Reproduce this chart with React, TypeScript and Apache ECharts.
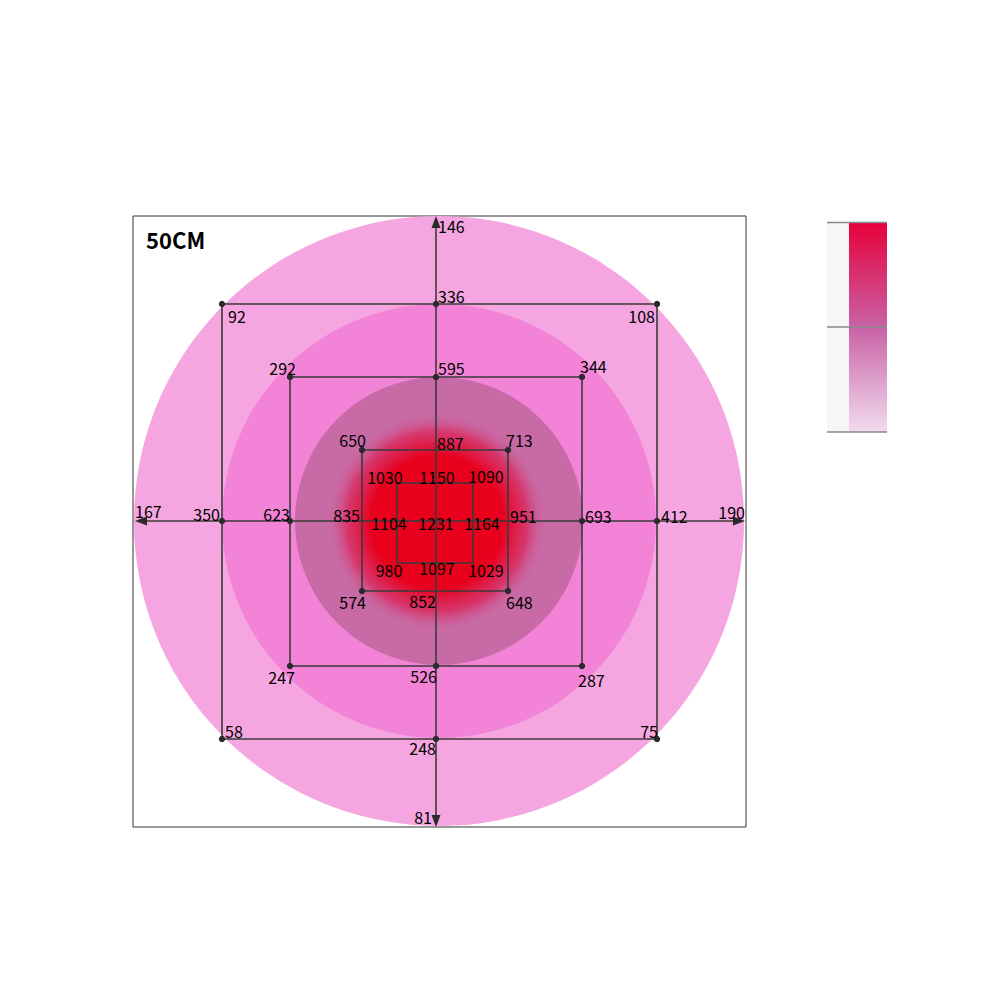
import React, { useEffect, useRef } from "react";
import * as echarts from "echarts";

const chartTitle = "50CM";
// slot order: top-left, top, top-right, right, bottom-right, bottom, bottom-left, left
const ring3Values = [92, 336, 108, 412, 75, 248, 58, 350];
const ring2Values = [292, 595, 344, 693, 287, 526, 247, 623];
const ring1Values = [650, 887, 713, 951, 648, 852, 574, 835];
const ring0Values = [1030, 1150, 1090, 1164, 1029, 1097, 980, 1104];
const centerValue = 1231;
// order: top, right, bottom, left
const axisEndValues = [146, 190, 81, 167];

// ---------- layout (pixel-like data units, centre at 0,0) ----------
const X_RANGE = [-303, 310];
const Y_RANGE = [-306, 305];
// [left, right, top, bottom] per ring level 0..3
const squareExtents = [
  [-39, 37, 38, -42],
  [-74, 72, 71, -70],
  [-146, 146, 144, -145],
  [-214, 221, 217, -218],
];
const axisEnds = [[0, 305], [309, 0], [0, -306], [-301, 0]];
const circleCenter = [3, 0];
const circleLayers = [
  { r: 305, color: "#f5a6e0" },
  { r: 217, color: "#f383d6" },
  { r: 144, color: "#c86aa5" },
];
const hotSpotRadius = 110;
// label specs [align, dx, dy] per level per slot
const labelSpecs: any[][] = [
  [["center", -12, -6], ["center", 1, -6], ["center", 13, -7], ["center", 9, 2], ["center", 13, 7], ["center", 1, 5], ["center", -8, 7], ["center", -8, 2]],
  [["right", 4, -10], ["left", 1, -7], ["left", -2, -10], ["left", 2, -5], ["left", -2, 11], ["right", 0, 10], ["right", 4, 11], ["right", -2, -6]],
  [["right", 6, -9], ["left", 2, -9], ["left", -2, -11], ["left", 3, -5], ["left", -4, 14], ["right", 1, 10], ["right", 5, 11], ["right", 0, -7]],
  [["left", 6, 12], ["left", 2, -8], ["right", -2, 12], ["left", 4, -5], ["right", 1, -8], ["right", 0, 9], ["left", 3, -8], ["right", -2, -7]],
];
const axisEndSpecs: any[] = [["left", 2, 10], ["right", 0, -9], ["right", -4, -10], ["left", 0, -10]];
const centerSpec: any = ["center", 0, 2];
const FONT = '16px "Noto Sans CJK JP", "Noto Sans", sans-serif';

function slotPoint(ext: number[], s: number): number[] {
  const [l, r, t, b] = ext;
  return [[l, t], [0, t], [r, t], [r, 0], [r, b], [0, b], [l, b], [l, 0]][s];
}

export default function App() {
  const ref = useRef<HTMLDivElement>(null);
  useEffect(() => {
    document.body.style.margin = "0";
    if (!ref.current) return;
    const chart = echarts.init(ref.current, null, { renderer: "svg" });

    const levels = [ring0Values, ring1Values, ring2Values, ring3Values];
    const points: any[] = [];
    levels.forEach((vals, lv) => {
      vals.forEach((v, s) => {
        const [x, y] = slotPoint(squareExtents[lv], s);
        const spec = labelSpecs[lv][s];
        const dot = lv >= 2 || (lv === 1 && s % 2 === 0);
        points.push({ x, y, v, align: spec[0], dx: spec[1], dy: spec[2], dot });
      });
    });
    points.push({ x: 0, y: 0, v: centerValue, align: centerSpec[0], dx: centerSpec[1], dy: centerSpec[2], dot: false });
    axisEndValues.forEach((v, i) => {
      const sp = axisEndSpecs[i];
      points.push({ x: axisEnds[i][0], y: axisEnds[i][1], v, align: sp[0], dx: sp[1], dy: sp[2], dot: false });
    });

    const option: any = {
      animation: false,
      title: {
        text: chartTitle,
        left: 146,
        top: 228,
        padding: 0,
        textStyle: { fontSize: 22, fontWeight: "bold", color: "#000", fontFamily: '"Noto Sans CJK JP", "Noto Sans", sans-serif' },
      },
      grid: { left: 133, top: 216, width: 613, height: 611, show: true, borderColor: "#333", borderWidth: 1, backgroundColor: "transparent" },
      xAxis: { type: "value", min: X_RANGE[0], max: X_RANGE[1], show: false },
      yAxis: { type: "value", min: Y_RANGE[0], max: Y_RANGE[1], show: false },
      graphic: [
        { type: "rect", shape: { x: 827, y: 222, width: 22, height: 210 }, style: { fill: "#f6f6f6" } },
        {
          type: "rect",
          shape: { x: 849, y: 222, width: 38, height: 210 },
          style: {
            fill: new echarts.graphic.LinearGradient(0, 0, 0, 1, [
              { offset: 0, color: "#e8003a" },
              { offset: 0.5, color: "#c862a6" },
              { offset: 1, color: "#f2dcef" },
            ]),
          },
        },
        { type: "line", shape: { x1: 827, y1: 222.5, x2: 887, y2: 222.5 }, style: { stroke: "#888", lineWidth: 1.5 } },
        { type: "line", shape: { x1: 827, y1: 327, x2: 887, y2: 327 }, style: { stroke: "#888", lineWidth: 1.5 } },
        { type: "line", shape: { x1: 827, y1: 432, x2: 887, y2: 432 }, style: { stroke: "#888", lineWidth: 1.5 } },
      ],
      series: [
        {
          type: "custom",
          clip: false,
          data: circleLayers.map((c) => [circleCenter[0], circleCenter[1], c.r]),
          renderItem: (params: any, api: any) => {
            const p = api.coord([api.value(0), api.value(1)]);
            const rr = api.size([api.value(2), 0])[0];
            return { type: "circle", shape: { cx: p[0], cy: p[1], r: rr }, style: { fill: circleLayers[params.dataIndex].color } };
          },
        },
        {
          type: "custom",
          clip: false,
          data: [[circleCenter[0] - 2, circleCenter[1] - 1, hotSpotRadius]],
          renderItem: (params: any, api: any) => {
            const p = api.coord([api.value(0), api.value(1)]);
            const rr = api.size([api.value(2), 0])[0];
            return {
              type: "circle",
              shape: { cx: p[0], cy: p[1], r: rr },
              style: {
                fill: {
                  type: "radial", x: 0.5, y: 0.5, r: 0.5,
                  colorStops: [
                    { offset: 0, color: "rgba(232,0,28,1)" },
                    { offset: 0.6, color: "rgba(232,0,28,1)" },
                    { offset: 0.82, color: "rgba(224,20,70,0.6)" },
                    { offset: 1, color: "rgba(200,106,165,0)" },
                  ],
                },
              },
            };
          },
        },
        {
          type: "custom",
          clip: false,
          data: squareExtents.map((e) => e.slice()),
          renderItem: (params: any, api: any) => {
            const p1 = api.coord([api.value(0), api.value(2)]);
            const p2 = api.coord([api.value(1), api.value(3)]);
            return {
              type: "rect",
              shape: { x: p1[0], y: p1[1], width: p2[0] - p1[0], height: p2[1] - p1[1] },
              style: { fill: "none", stroke: "#3a3a3a", lineWidth: 1.6 },
            };
          },
        },
        {
          type: "custom",
          clip: false,
          data: axisEnds.map((a) => a.slice()),
          renderItem: (params: any, api: any) => {
            const c = api.coord([0, 0]);
            const t = api.coord([api.value(0), api.value(1)]);
            const dx = t[0] - c[0];
            const dy = t[1] - c[1];
            const len = Math.sqrt(dx * dx + dy * dy);
            const ux = dx / len, uy = dy / len;
            const bx = t[0] - ux * 12, by = t[1] - uy * 12;
            const px = -uy * 4.5, py = ux * 4.5;
            return {
              type: "group",
              children: [
                { type: "line", shape: { x1: c[0], y1: c[1], x2: bx, y2: by }, style: { stroke: "#3a3a3a", lineWidth: 1.6 } },
                { type: "polygon", shape: { points: [[t[0], t[1]], [bx + px, by + py], [bx - px, by - py]] }, style: { fill: "#2a2a2a" } },
              ],
            };
          },
        },
        {
          type: "custom",
          clip: false,
          data: points.map((p) => [p.x, p.y, p.v]),
          renderItem: (params: any, api: any) => {
            const m = points[params.dataIndex];
            const p = api.coord([api.value(0), api.value(1)]);
            const children: any[] = [];
            if (m.dot) children.push({ type: "circle", shape: { cx: p[0], cy: p[1], r: 3.2 }, style: { fill: "#2a2a2a" } });
            children.push({
              type: "text",
              x: p[0] + m.dx,
              y: p[1] + m.dy,
              style: { text: String(api.value(2)), align: m.align, verticalAlign: "middle", fill: "#000", font: FONT },
            });
            return { type: "group", children };
          },
        },
      ],
    };
    chart.setOption(option);
    return () => chart.dispose();
  }, []);
  return <div ref={ref} style={{ width: 1000, height: 1000 }} />;
}
